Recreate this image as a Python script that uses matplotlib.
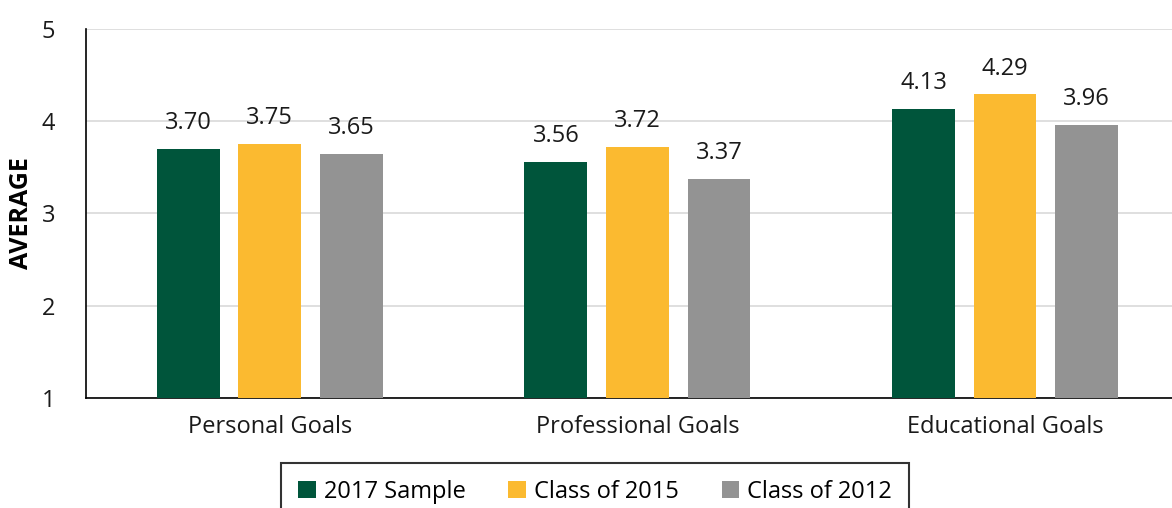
import matplotlib
matplotlib.use('Agg')
import matplotlib.pyplot as plt
import numpy as np

plt.rcParams['font.family'] = ['Open Sans', 'DejaVu Sans']

categories = ['Personal Goals', 'Professional Goals', 'Educational Goals']
series = ['2017 Sample', 'Class of 2015', 'Class of 2012']
values = [
    [3.70, 3.56, 4.13],
    [3.75, 3.72, 4.29],
    [3.65, 3.37, 3.96],
]
colors = ['#00553B', '#FBBA30', '#939393']

fig = plt.figure(figsize=(11.72, 5.08), dpi=100)
# axes run a little past the right edge, as in the original
ax = fig.add_axes([0.0734, 0.2165, 0.941, 0.7265])

x = np.arange(len(categories))
width = 0.171
step = 0.222
for i, (name, vals) in enumerate(zip(series, values)):
    pos = x + (i - 1) * step
    ax.bar(pos, np.array(vals) - 1, width, bottom=1, color=colors[i],
           label=name, zorder=3)
    for p, v in zip(pos, vals):
        ax.annotate('{:.2f}'.format(v), (p, v), xytext=(0, 10),
                    textcoords='offset points', ha='center', va='bottom',
                    fontsize=17, color='#1a1a1a')

ax.set_ylim(1, 5)
ax.set_xlim(-0.5, 2.5)
ax.set_yticks([1, 2, 3, 4, 5])
ax.set_xticks(x)
ax.set_xticklabels(categories)
ax.tick_params(axis='y', labelsize=17, length=0, pad=22, colors='#1a1a1a')
ax.tick_params(axis='x', labelsize=17, length=0, pad=12, colors='#1a1a1a')
ax.yaxis.grid(True, color='#D9D9D9', linewidth=1.2, zorder=0)
ax.set_axisbelow(True)
for s in ['top', 'right']:
    ax.spines[s].set_visible(False)
for s in ['left', 'bottom']:
    ax.spines[s].set_color('#000000')
    ax.spines[s].set_linewidth(1.2)
ax.set_ylabel('AVERAGE', fontsize=18, fontweight='bold', labelpad=6)

# legend box runs off the bottom edge like the source image
leg = fig.legend(loc='upper center', bbox_to_anchor=(0.5077, 0.0886),
                 ncol=3, fontsize=17, frameon=True, fancybox=False,
                 edgecolor='#000000', handlelength=0.75, handleheight=0.75,
                 handletextpad=0.35, columnspacing=1.8, borderpad=0.7,
                 borderaxespad=0)
leg.get_frame().set_linewidth(1.5)

fig.savefig('out.png', dpi=100)
